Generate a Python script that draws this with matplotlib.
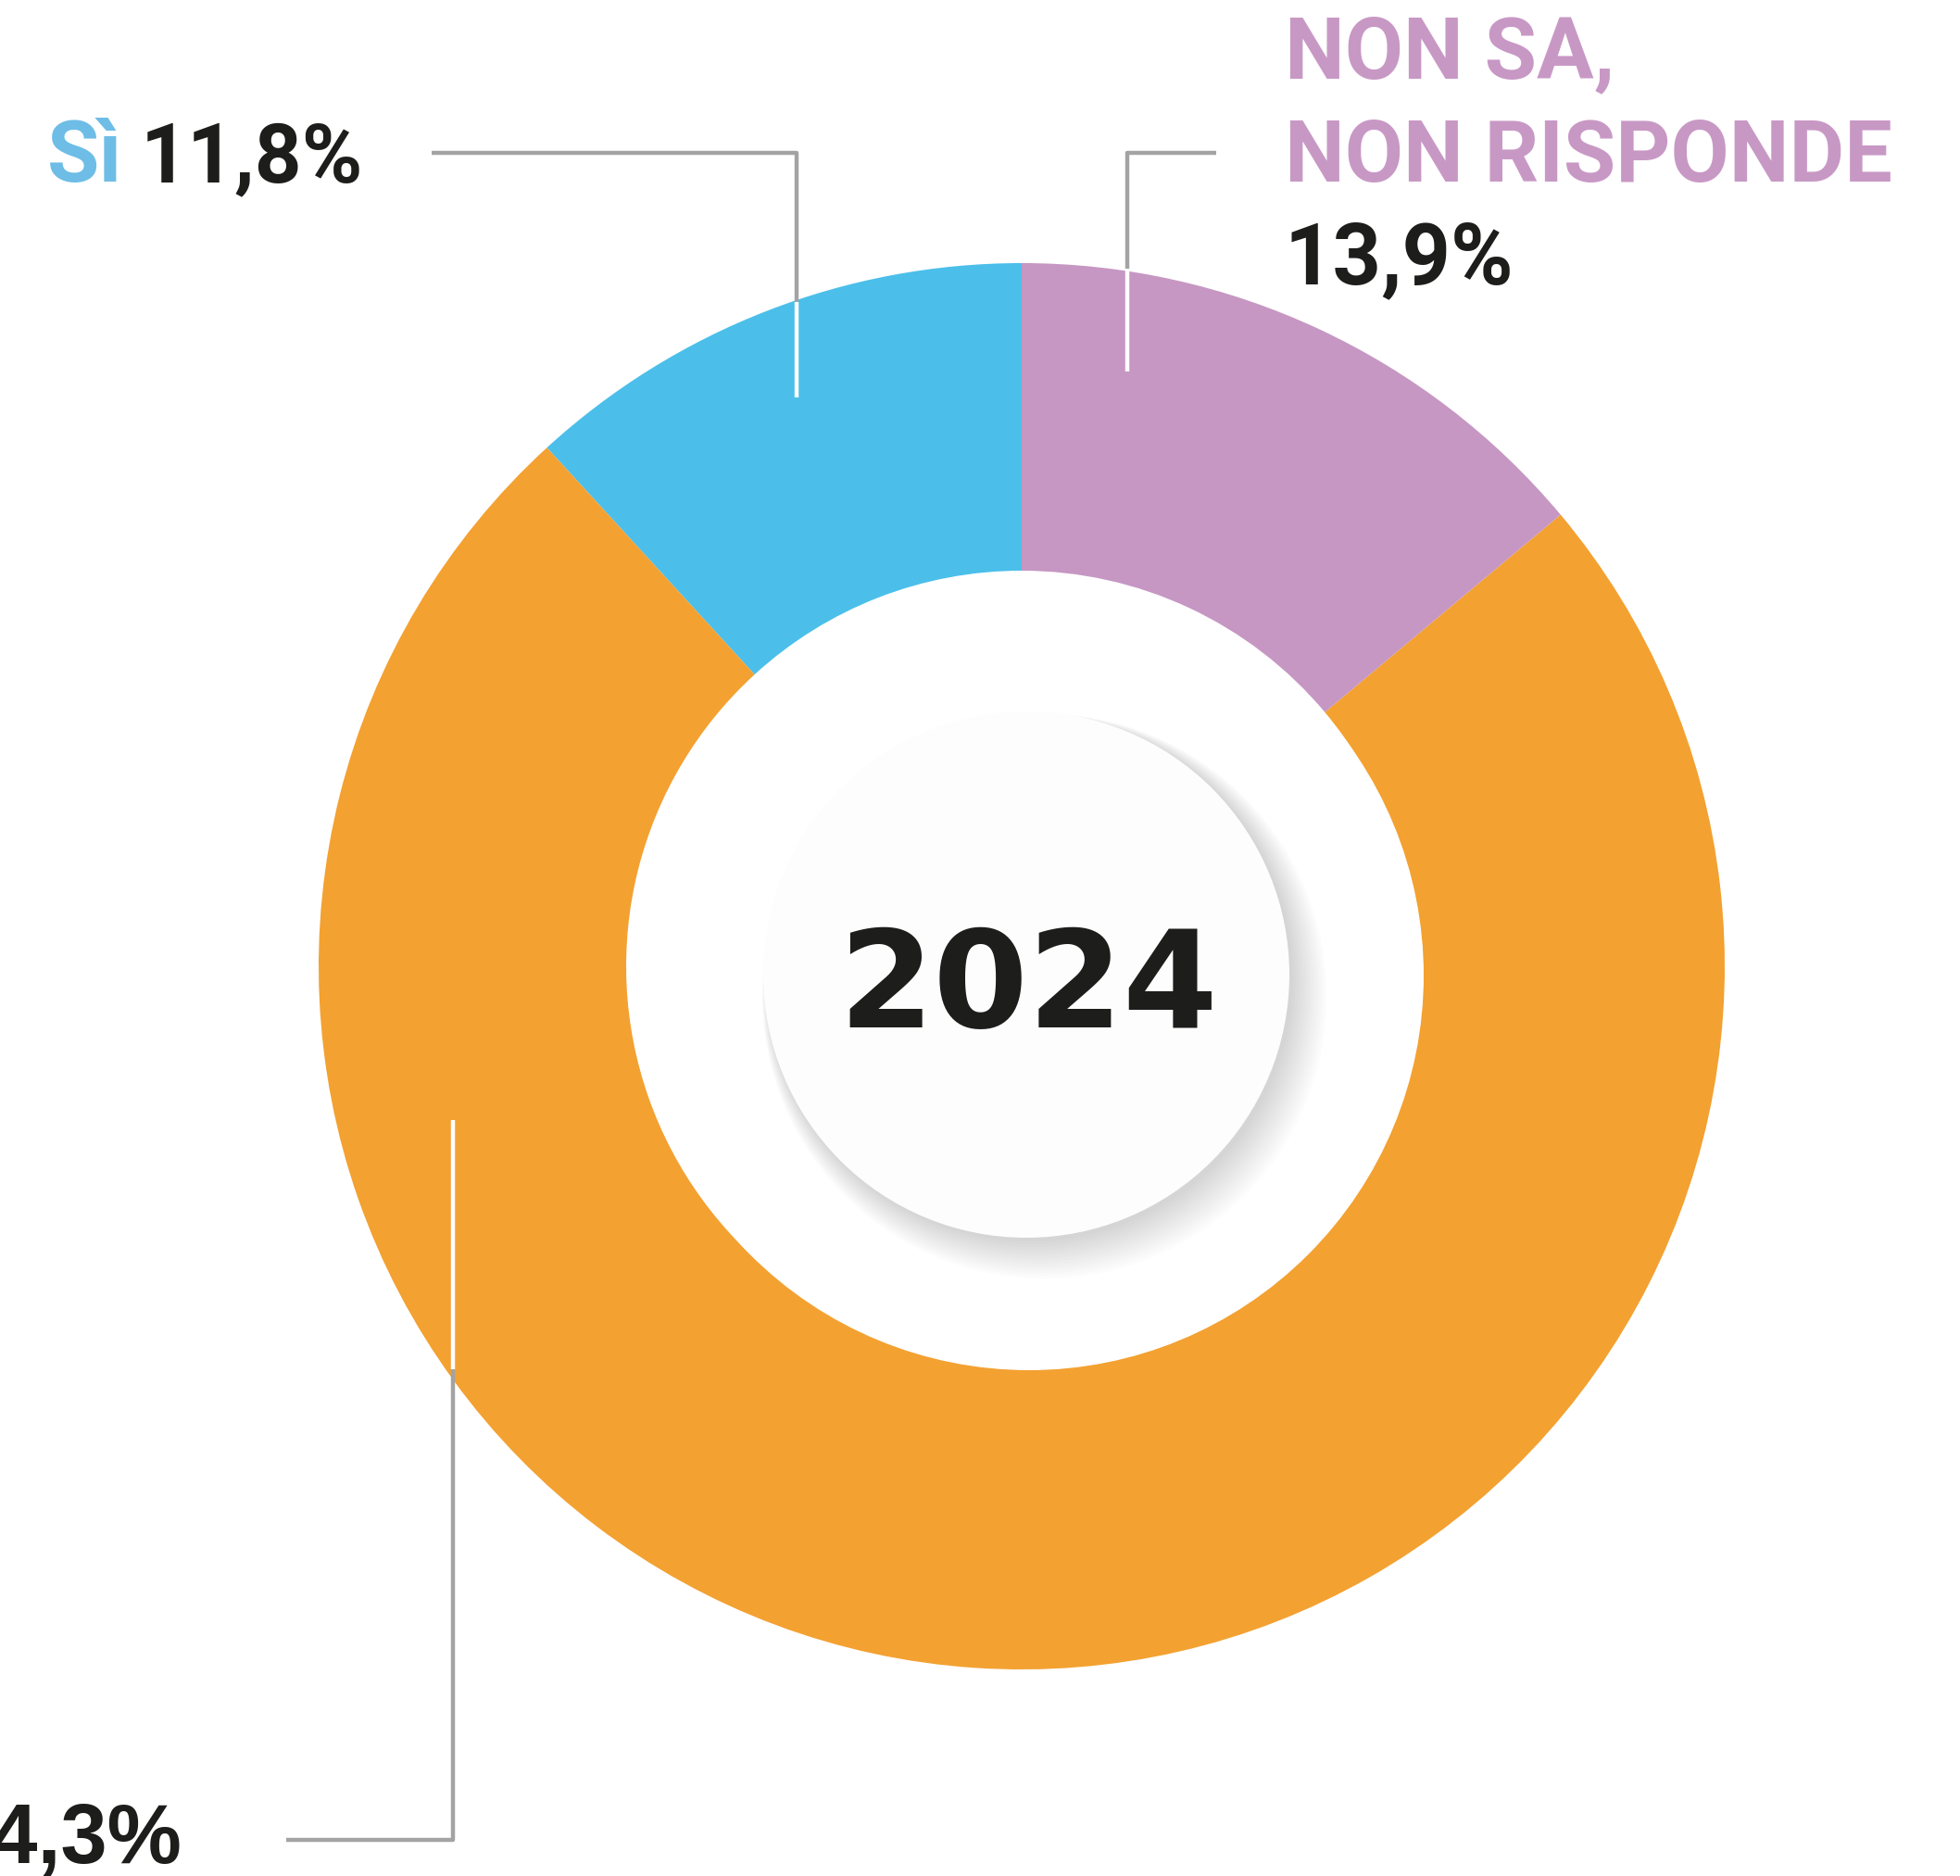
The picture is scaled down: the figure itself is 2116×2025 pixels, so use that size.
import matplotlib
matplotlib.use("Agg")
import matplotlib.pyplot as plt
from matplotlib.patches import Circle

### dati
valori = [11.8, 74.3, 13.9]          # Sì, No, Non sa / non risponde
colori = ["#4BBFEA", "#F3A131", "#C697C3"]
etichette_num = ["11,8%", "74,3%", "13,9%"]
anno = "2024"

W, H = 2116, 2025
fig = plt.figure(figsize=(W / 100, H / 100), dpi=100)
ax = fig.add_axes([0, 0, 1, 1])

cx, cy, R = 1103, 1043, 759
# asse y invertito -> angoli specchiati, quindi senso orario in coordinate dati
ax.pie(valori, colors=colori, startangle=-90, counterclock=False,
       center=(cx, cy), radius=R, frame=True,
       wedgeprops=dict(width=R - 427, linewidth=0))
ax.set_xlim(0, W)
ax.set_ylim(H, 0)
ax.set_aspect("equal")
ax.axis("off")

# cerchio interno bianco + disco con ombra leggera
ax.add_patch(Circle((1111, 1053), 426, facecolor="white", edgecolor="none", zorder=3))
for i in range(14):
    ax.add_patch(Circle((1112 + i * 1.2, 1056 + i * 1.5), 284 + i * 1.6,
                        facecolor="black", alpha=0.01, edgecolor="none", zorder=4))
ax.add_patch(Circle((1108, 1052), 284, facecolor="#FDFDFD", edgecolor="none", zorder=5))

ax.text(1110, 1109, anno, ha="center", va="baseline", fontsize=106,
        fontweight="bold", family="DejaVu Sans", color="#1D1D1B", zorder=6)

### linee di richiamo
grigio = "#A3A3A3"
lw = 3.2
# Sì
ax.plot([466, 860, 860], [165, 165, 326], color=grigio, lw=lw, solid_capstyle="butt", zorder=6)
ax.plot([860, 860], [326, 429], color="white", lw=lw, solid_capstyle="butt", zorder=6)
# non sa
ax.plot([1313, 1217, 1217], [165, 165, 290], color=grigio, lw=lw, solid_capstyle="butt", zorder=6)
ax.plot([1217, 1217], [290, 401], color="white", lw=lw, solid_capstyle="butt", zorder=6)
# no
ax.plot([489, 489], [1209, 1478], color="white", lw=lw, solid_capstyle="butt", zorder=6)
ax.plot([489, 489, 309], [1478, 1986, 1986], color=grigio, lw=lw, solid_capstyle="butt", zorder=6)

### testi
nero = "#1D1D1B"
fs = 66
ax.text(51, 196, "Sì", color="#6EBDE6", fontsize=fs, fontweight="bold",
        family="Roboto", va="baseline", ha="left", zorder=6)
ax.text(152, 196, etichette_num[0], color=nero, fontsize=fs - 2, fontweight="bold",
        family="Roboto", va="baseline", ha="left", zorder=6)

ax.text(1387, 84, "NON SA,", color="#C898C5", fontsize=fs, fontweight="bold",
        family="Roboto", va="baseline", ha="left", zorder=6)
ax.text(1387, 196, "NON RISPONDE", color="#C898C5", fontsize=fs, fontweight="bold",
        family="Roboto", va="baseline", ha="left", zorder=6)
ax.text(1387, 306, etichette_num[2], color=nero, fontsize=fs, fontweight="bold",
        family="Roboto", va="baseline", ha="left", zorder=6)

ax.text(196, 2011, etichette_num[1], color=nero, fontsize=65, fontweight="bold",
        family="Liberation Sans", va="baseline", ha="right", zorder=6)

plt.savefig("out.png", dpi=100)
plt.close("all")
